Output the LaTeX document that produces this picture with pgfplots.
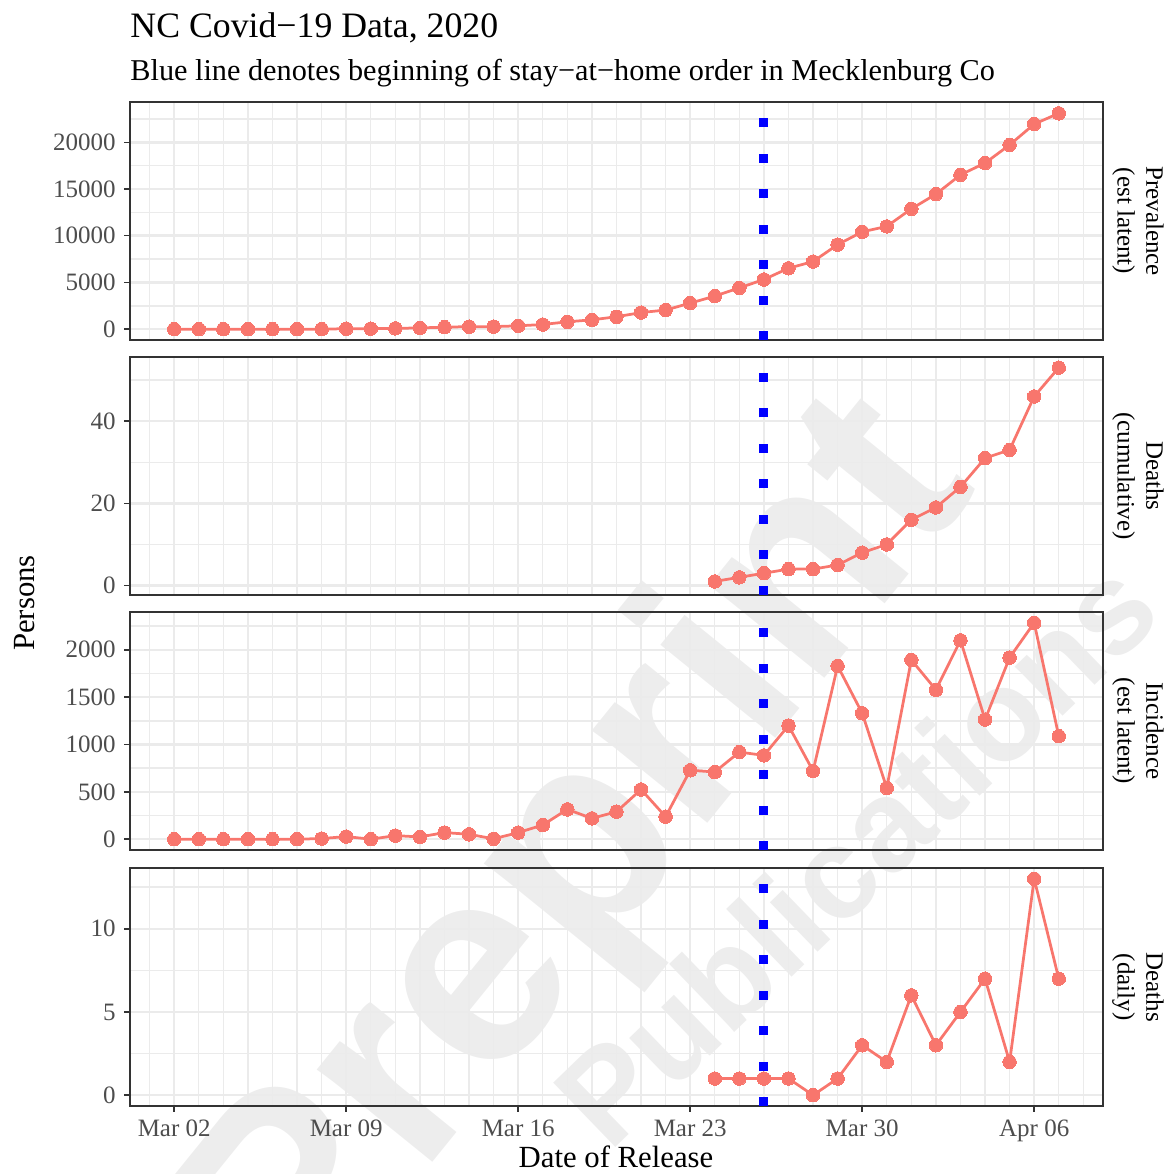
\documentclass[border=0pt]{standalone}
\usepackage{fontspec}
\setmainfont{Liberation Serif}
\setsansfont{Liberation Sans}
\usepackage{pgfplots}
\pgfplotsset{compat=1.18}
\usepackage{pgfplotstable}

\definecolor{ggred}{HTML}{F8766D}
\definecolor{gridc}{HTML}{EBEBEB}
\definecolor{grey20}{HTML}{333333}
\definecolor{grey30}{HTML}{4D4D4D}

% day 0 = Mar 02
\pgfplotstableread{
day value
0 2
1 2
2 2
3 2
4 2
5 2
6 9
7 50
8 55
9 90
10 135
11 220
12 270
13 275
14 360
15 500
16 790
17 1000
18 1330
19 1780
20 2050
21 2790
22 3540
23 4420
24 5320
25 6520
26 7240
27 9050
28 10420
29 11000
30 12880
31 14450
32 16520
33 17780
34 19720
35 21950
36 23100
}\prevalence

\pgfplotstableread{
day value
22 1
23 2
24 3
25 4
26 4
27 5
28 8
29 10
30 16
31 19
32 24
33 31
34 33
35 46
36 53
}\deathscum

\pgfplotstableread{
day value
0 0
1 0
2 0
3 0
4 0
5 0
6 7
7 28
8 0
9 38
10 24
11 70
12 52
13 4
14 70
15 150
16 315
17 220
18 290
19 525
20 238
21 728
22 710
23 920
24 885
25 1200
26 721
27 1830
28 1330
29 542
30 1893
31 1578
32 2100
33 1263
34 1918
35 2285
36 1088
}\incidence

\pgfplotstableread{
day value
22 1
23 1
24 1
25 1
26 0
27 1
28 3
29 2
30 6
31 3
32 5
33 7
34 2
35 13
36 7
}\deathsdaily

\pgfplotsset{
  panel/.style={
    scale only axis, width=389.2pt, height=95.2pt,
    anchor=north west,
    xmin=-1.8, xmax=37.8,
    axis line style={grey20, line width=0.8pt},
    xtick={0,7,...,35}, minor xtick={-1,0,...,37},
    xmajorgrids, xminorgrids, ymajorgrids, yminorgrids,
    major grid style={gridc, line width=1pt},
    minor grid style={gridc, line width=0.55pt},
    tick align=outside, tick pos=left,
    major tick length=2.2pt, minor tick length=0pt,
    tick style={grey20, line width=0.6pt},
    ticklabel style={font=\fontsize{10}{12}\selectfont, text=grey30},
    scaled y ticks=false,
    /pgf/number format/assume math mode=true,
    /pgf/number format/1000 sep={},
  },
  nox/.style={xticklabels={}, xtick style={draw=none}},
  series/.style={ggred, line width=1.1pt, mark=*, mark size=2.7pt,
    mark options={fill=ggred, draw=ggred, line width=0pt}},
  vline/.style={blue, line width=3.6pt, dash pattern=on 3.6pt off 10.6pt},
}

\begin{document}
\begin{tikzpicture}
\useasboundingbox (-52pt,40.8pt) rectangle (415.2pt,-428.8pt);

% faint watermark (drawn first so that it stays behind the texts)
\begin{scope}
\clip (-52pt,40.8pt) rectangle (415.2pt,-428.8pt);
\node[rotate=51, opacity=0.07, font=\sffamily\bfseries\fontsize{112}{120}\selectfont] at (182pt,-303pt) {Preprint};
\node[rotate=44, opacity=0.07, font=\sffamily\bfseries\fontsize{52}{60}\selectfont] at (290pt,-300pt) {Publications};
\end{scope}

\node[anchor=base west, inner sep=0pt, font=\fontsize{14.3}{17}\selectfont] at (0pt,26pt) {NC Covid−19 Data, 2020};
\node[anchor=base west, inner sep=0pt, font=\fontsize{12.1}{14}\selectfont] at (0pt,8.8pt) {Blue line denotes beginning of stay−at−home order in Mecklenburg Co};

\begin{axis}[panel, nox, name=p1, at={(0pt,0pt)},
  ymin=-1158, ymax=24312,
  ytick={0,5000,10000,15000,20000}, minor ytick={2500,7500,12500,17500,22500}]
  \addplot[series] table[x=day, y=value] {\prevalence};
  \addplot[vline] coordinates {(24,-1158) (24,24312)};
\end{axis}

\begin{axis}[panel, nox, name=p2, at={(0pt,-102pt)},
  ymin=-2.3, ymax=55.6,
  ytick={0,20,40}, minor ytick={10,30,50}]
  \addplot[series] table[x=day, y=value] {\deathscum};
  \addplot[vline] coordinates {(24,-2.3) (24,55.6)};
\end{axis}

\begin{axis}[panel, nox, name=p3, at={(0pt,-204pt)},
  ymin=-114, ymax=2399,
  ytick={0,500,1000,1500,2000}, minor ytick={250,750,1250,1750,2250}]
  \addplot[series] table[x=day, y=value] {\incidence};
  \addplot[vline] coordinates {(24,-114) (24,2399)};
\end{axis}

\begin{axis}[panel, name=p4, at={(0pt,-306.4pt)},
  ymin=-0.65, ymax=13.65,
  ytick={0,5,10}, minor ytick={2.5,7.5,12.5},
  xticklabels={Mar 02,Mar 09,Mar 16,Mar 23,Mar 30,Apr 06}]
  \addplot[series] table[x=day, y=value] {\deathsdaily};
  \addplot[vline] coordinates {(24,-0.65) (24,13.65)};
\end{axis}

\foreach \p/\txt in {p1/{Prevalence\\(est latent)}, p2/{Deaths\\(cumulative)}, p3/{Incidence\\(est latent)}, p4/{Deaths\\(daily)}}
  \node[rotate=-90, align=center, font=\fontsize{10}{11.5}\selectfont] at ([xshift=14pt]\p.east) {\txt};

\node[rotate=90, font=\fontsize{12.3}{14}\selectfont] at (-42pt,-200.4pt) {Persons};
\node[anchor=base, font=\fontsize{12.3}{14}\selectfont] at (194.4pt,-426pt) {Date of Release};
\end{tikzpicture}
\end{document}
